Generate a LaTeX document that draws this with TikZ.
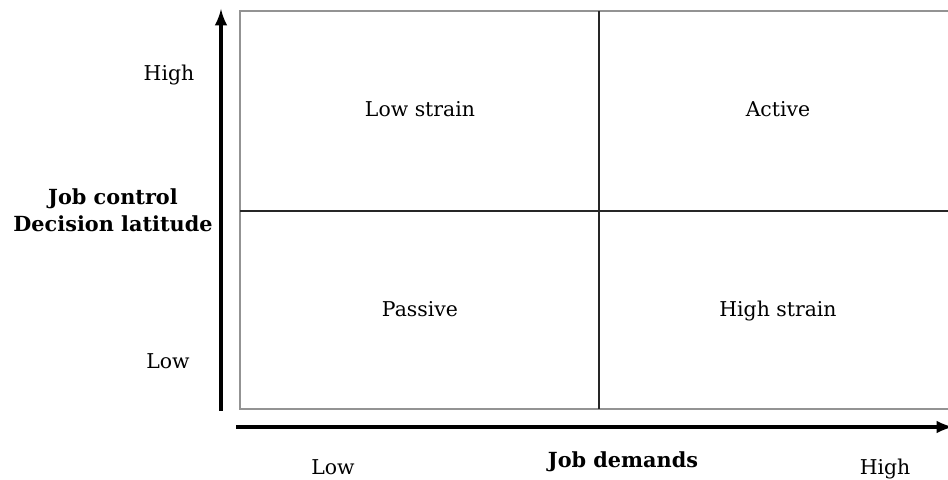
\documentclass[tikz,border=0pt]{standalone}
\usepackage{fontspec}
\setmainfont{DejaVu Serif}
\usetikzlibrary{arrows.meta,arrows}
\tikzset{
quadlabel/.style={anchor=base,font=\fontsize{10.2}{12}\selectfont},
axislabel/.style={anchor=base,font=\fontsize{10.2}{12}\selectfont},
axistitle/.style={font=\fontsize{10.4}{13.5}\selectfont\bfseries,align=center},
axisline/.style={->,line width=1.8pt},
gridline/.style={line width=0.8pt,black!85}
}

\begin{document}
\begin{tikzpicture}[>=latex,x=0.5pt,y=-0.5pt]
            \useasboundingbox (0,0) rectangle (948,480);
            % outer frame, open on the right
            \draw[gray!85,line width=1pt] (955,11) -- (240,11) -- (240,409) -- (955,409);
            % quadrant borders
            \coordinate (midtop) at (599,11);
            \coordinate (midbot) at (599,409);
            \coordinate (midleft) at (240,211);
            \coordinate (midright) at (955,211);
            \draw[gridline] (midtop) -- (midbot);
            \draw[gridline] (midleft) -- (midright);
            % quadrants
            \node[quadlabel] (lowstrain) at (420,117) {Low strain};
            \node[quadlabel] (active) at (778,117) {Active};
            \node[quadlabel] (passive) at (420,317) {Passive};
            \node[quadlabel] (highstrain) at (778,317) {High strain};
            % axes
            \coordinate (yfoot) at (221,411);
            \coordinate (ytip) at (221,9);
            \coordinate (xfoot) at (236,427);
            \coordinate (xtip) at (953,427);
            \draw[axisline] (yfoot) -- (ytip);
            \draw[axisline] (xfoot) -- (xtip);
            \node[axislabel] (yhigh) at (169,81) {High};
            \node[axislabel] (ylow) at (168,369) {Low};
            \node[axistitle] (control) at (113,210) {Job control\\Decision latitude};
            \node[axislabel] (xlow) at (333,474) {Low};
            \node[axistitle,anchor=base] (demands) at (623,468) {Job demands};
            \node[axislabel] (xhigh) at (885,474) {High};
        \end{tikzpicture}
\end{document}
